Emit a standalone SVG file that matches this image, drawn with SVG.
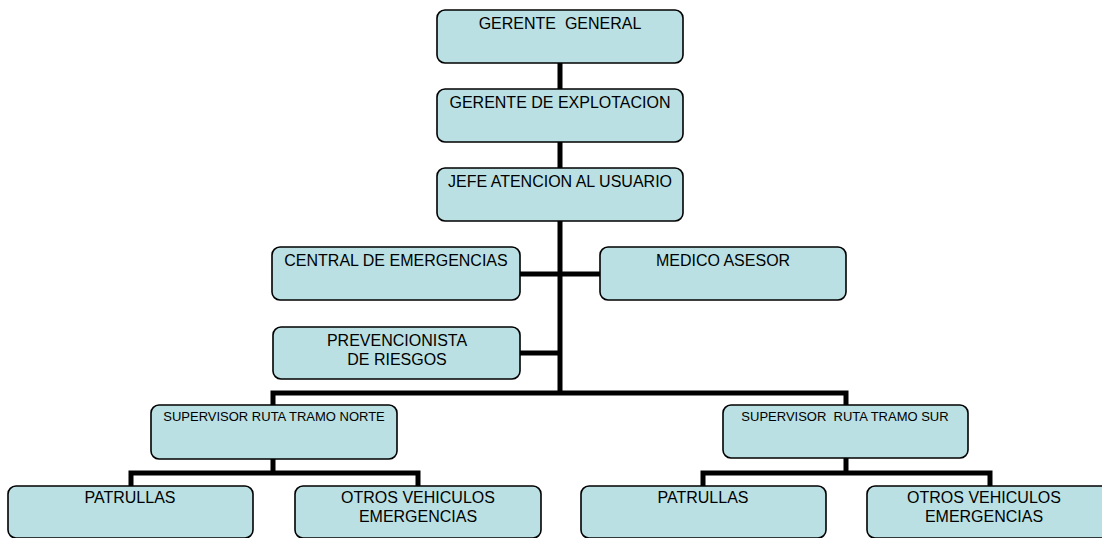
<svg xmlns="http://www.w3.org/2000/svg" width="1102" height="538" viewBox="0 0 1102 538">
<style>
.box{fill:#BAE0E3;stroke:#000;stroke-width:1.6}
.t{font-family:"Liberation Sans",Arial,sans-serif;font-size:16px;fill:#000;text-anchor:middle;white-space:pre}
.s{font-size:13px}
.c{fill:none;stroke:#000;stroke-width:5;stroke-linejoin:miter}
</style>
<rect width="1102" height="538" fill="#fff"/>
<g id="connectors">
<path class="c" d="M560,63 V89 M560,142 V168 M560,221 V393"/>
<path class="c" d="M520,274 H600"/>
<path class="c" d="M520,353 H560"/>
<path class="c" d="M273,405 V393 H846 V405"/>
<path class="c" d="M273,459 V473 M131,486 V473 H418 V486"/>
<path class="c" d="M846,458 V473 M703,486 V473 H990 V486"/>
</g>
<g id="gerente-general"><rect class="box" x="437" y="10" width="246" height="53" rx="8"/><text class="t" x="560" y="29" xml:space="preserve">GERENTE  GENERAL</text></g>
<g id="gerente-explotacion"><rect class="box" x="437" y="89" width="246" height="53" rx="8"/><text class="t" x="560" y="108">GERENTE DE EXPLOTACION</text></g>
<g id="jefe-atencion"><rect class="box" x="437" y="168" width="246" height="53" rx="8"/><text class="t" x="560" y="187">JEFE ATENCION AL USUARIO</text></g>
<g id="central-emergencias"><rect class="box" x="272" y="247" width="248" height="53" rx="8"/><text class="t" x="396" y="266">CENTRAL DE EMERGENCIAS</text></g>
<g id="medico-asesor"><rect class="box" x="600" y="247" width="246" height="53" rx="8"/><text class="t" x="723" y="266">MEDICO ASESOR</text></g>
<g id="prevencionista"><rect class="box" x="273" y="327" width="247" height="52" rx="8"/><text class="t" x="397" y="346">PREVENCIONISTA</text><text class="t" x="397" y="365">DE RIESGOS</text></g>
<g id="supervisor-norte"><rect class="box" x="151" y="405" width="246" height="54" rx="8"/><text class="t s" x="274" y="421">SUPERVISOR RUTA TRAMO NORTE</text></g>
<g id="supervisor-sur"><rect class="box" x="723" y="405" width="245" height="53" rx="8"/><text class="t s" x="845" y="421" xml:space="preserve">SUPERVISOR  RUTA TRAMO SUR</text></g>
<g id="patrullas-norte"><rect class="box" x="8" y="486" width="245" height="52" rx="8"/><text class="t" x="130" y="503">PATRULLAS</text></g>
<g id="otros-norte"><rect class="box" x="295" y="486" width="246" height="52" rx="8"/><text class="t" x="418" y="503">OTROS VEHICULOS</text><text class="t" x="418" y="522">EMERGENCIAS</text></g>
<g id="patrullas-sur"><rect class="box" x="581" y="486" width="245" height="52" rx="8"/><text class="t" x="703" y="503">PATRULLAS</text></g>
<g id="otros-sur"><rect class="box" x="867" y="486" width="246" height="52" rx="8"/><text class="t" x="984" y="503">OTROS VEHICULOS</text><text class="t" x="984" y="522">EMERGENCIAS</text></g>
</svg>
